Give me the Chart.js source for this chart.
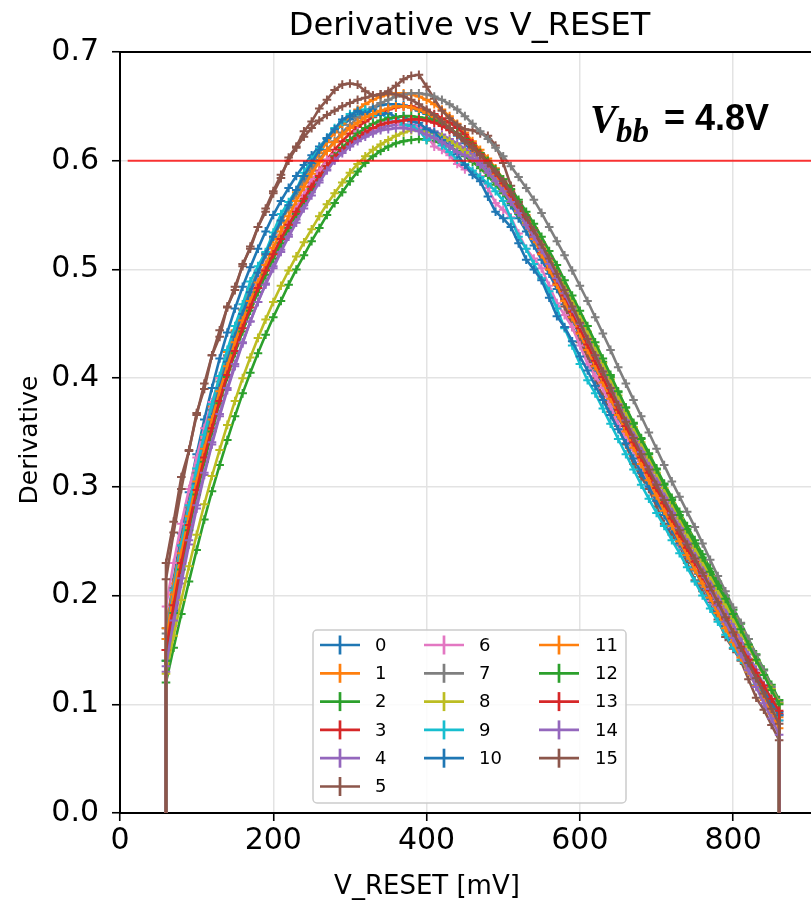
<!DOCTYPE html>
<html><head><meta charset="utf-8">
<script src="https://cdn.jsdelivr.net/npm/chart.js@4.4.0/dist/chart.umd.min.js"></script>
<style>
html,body{margin:0;padding:0;background:#fff;overflow:hidden;width:811px;height:903px}
#wrap{position:absolute;left:0;top:0;width:840px;height:903px}
</style>
</head><body><div id="wrap"><canvas id="c" width="840" height="903"></canvas></div>
<script>
const vReset = [60,60,70,80,90,100,110,120,130,140,150,160,170,180,190,200,210,220,230,240,250,260,270,280,290,300,310,320,330,340,350,360,370,380,390,400,410,420,430,440,450,460,470,480,490,500,510,520,530,540,550,560,570,580,590,600,610,620,630,640,650,660,670,680,690,700,710,720,730,740,750,760,770,780,790,800,810,820,830,840,850,860,860];

const s0 = [0,
.170,.215,.257,.295,.330,.362,.391,.418,.442,.464,
.484,.502,.519,.535,.550,.563,.575,.586,.596,.605,
.613,.620,.627,.633,.638,.642,.646,.649,.651,.652,
.652,.651,.649,.646,.643,.639,.634,.629,.623,.616,
.608,.600,.591,.581,.570,.559,.547,.535,.522,.509,
.496,.482,.468,.454,.439,.424,.409,.394,.379,.364,
.350,.335,.321,.307,.293,.279,.265,.252,.239,.226,
.213,.200,.187,.174,.162,.150,.138,.126,.115,.104,
.093,0];
const s1 = [0,
.170,.211,.249,.284,.316,.346,.374,.400,.424,.444,
.463,.481,.497,.513,.528,.543,.557,.571,.584,.596,
.607,.617,.626,.634,.641,.647,.652,.656,.659,.661,
.662,.662,.661,.659,.656,.652,.647,.641,.634,.626,
.618,.610,.602,.593,.583,.573,.562,.550,.538,.525,
.512,.498,.484,.469,.454,.439,.424,.409,.394,.379,
.364,.349,.334,.319,.304,.290,.276,.262,.249,.236,
.223,.210,.197,.183,.169,.156,.142,.128,.115,.101,
.088,0];
const s2 = [0,
.120,.152,.183,.213,.242,.270,.296,.320,.343,.365,
.386,.405,.423,.440,.456,.471,.486,.500,.513,.526,
.538,.550,.561,.571,.581,.590,.598,.604,.609,.613,
.616,.618,.619,.620,.619,.618,.616,.613,.609,.604,
.599,.593,.586,.578,.570,.561,.551,.541,.530,.518,
.506,.494,.481,.468,.455,.442,.429,.415,.401,.387,
.373,.359,.345,.331,.317,.303,.290,.277,.264,.251,
.238,.225,.213,.200,.187,.174,.160,.146,.132,.118,
.104,0];
const s3 = [0,
.150,.192,.232,.268,.300,.330,.358,.384,.408,.430,
.450,.468,.485,.500,.515,.529,.543,.556,.568,.580,
.591,.601,.610,.618,.625,.631,.636,.640,.644,.647,
.649,.650,.650,.648,.646,.643,.639,.635,.630,.624,
.616,.607,.598,.588,.577,.566,.554,.542,.529,.515,
.501,.487,.472,.457,.442,.427,.412,.397,.382,.367,
.352,.338,.324,.310,.296,.282,.268,.255,.242,.229,
.216,.203,.190,.177,.164,.151,.139,.127,.115,.103,
.091,0];
const s4 = [0,
.130,.172,.211,.247,.280,.311,.339,.365,.389,.411,
.432,.452,.470,.487,.503,.518,.532,.546,.559,.571,
.582,.592,.601,.609,.615,.620,.624,.627,.630,.632,
.633,.633,.633,.632,.630,.627,.624,.620,.616,.611,
.606,.601,.594,.586,.577,.567,.557,.546,.534,.522,
.509,.496,.482,.468,.454,.440,.425,.410,.395,.380,
.366,.352,.338,.324,.310,.296,.282,.268,.254,.241,
.228,.215,.202,.188,.174,.160,.146,.132,.118,.104,
.090,0];
const s5 = [0,
.230,.268,.309,.333,.368,.390,.421,.438,.466,.481,
.505,.519,.539,.553,.570,.584,.603,.613,.627,.636,
.648,.656,.665,.670,.671,.670,.664,.660,.661,.664,
.669,.675,.678,.679,.668,.657,.646,.639,.633,.629,
.628,.625,.623,.614,.598,.577,.562,.548,.531,.514,
.500,.486,.466,.447,.433,.420,.400,.383,.369,.356,
.339,.321,.309,.298,.282,.266,.256,.246,.230,.214,
.204,.194,.178,.162,.151,.140,.123,.106,.095,.081,
.067,0];
const s6 = [0,
.190,.230,.266,.298,.327,.354,.378,.400,.420,.439,
.457,.474,.490,.505,.519,.532,.545,.557,.569,.583,
.590,.601,.606,.611,.619,.627,.628,.629,.634,.638,
.635,.630,.632,.631,.624,.613,.610,.605,.597,.592,
.590,.586,.575,.561,.555,.548,.533,.519,.510,.501,
.485,.469,.458,.447,.430,.413,.402,.391,.374,.357,
.346,.334,.318,.302,.290,.278,.262,.247,.236,.225,
.210,.195,.184,.173,.158,.143,.133,.123,.109,.095,
.085,0];
const s7 = [0,
.165,.207,.246,.281,.313,.343,.371,.397,.421,.443,
.463,.482,.499,.515,.530,.544,.557,.569,.580,.591,
.601,.610,.618,.626,.633,.639,.644,.649,.653,.656,
.659,.661,.662,.662,.661,.659,.656,.652,.647,.641,
.634,.627,.620,.612,.604,.595,.585,.575,.564,.552,
.539,.526,.513,.499,.485,.471,.456,.441,.426,.410,
.395,.380,.365,.350,.335,.320,.305,.291,.277,.263,
.248,.233,.218,.204,.189,.175,.160,.145,.131,.116,
.102,0];
const s8 = [0,
.128,.163,.196,.227,.256,.284,.310,.334,.357,.379,
.400,.419,.437,.454,.470,.485,.499,.512,.525,.537,
.549,.560,.570,.580,.589,.597,.604,.610,.615,.619,
.623,.626,.628,.628,.627,.625,.622,.618,.613,.608,
.602,.596,.589,.581,.572,.563,.553,.543,.532,.521,
.509,.497,.484,.471,.457,.443,.429,.414,.399,.384,
.369,.355,.341,.327,.313,.299,.285,.271,.257,.244,
.231,.218,.205,.192,.179,.166,.153,.140,.127,.114,
.101,0];
const s9 = [0,
.160,.205,.246,.283,.317,.348,.376,.402,.426,.448,
.468,.489,.503,.516,.534,.551,.562,.573,.589,.601,
.611,.621,.630,.636,.643,.645,.647,.641,.644,.638,
.640,.633,.632,.628,.619,.623,.614,.608,.601,.597,
.591,.585,.579,.572,.563,.547,.530,.519,.505,.492,
.480,.464,.446,.430,.413,.398,.386,.372,.358,.344,
.330,.316,.302,.289,.276,.264,.251,.239,.226,.213,
.200,.188,.176,.164,.152,.141,.130,.118,.107,.096,
.085,0];
const s10 = [0,
.140,.186,.229,.268,.303,.335,.364,.391,.415,.438,
.459,.479,.497,.514,.530,.545,.559,.573,.586,.598,
.610,.621,.629,.638,.641,.646,.643,.647,.642,.644,
.640,.641,.636,.635,.629,.626,.619,.614,.606,.596,
.587,.581,.567,.553,.547,.539,.524,.509,.500,.490,
.474,.457,.447,.434,.420,.407,.393,.380,.366,.353,
.340,.326,.313,.300,.287,.274,.261,.248,.236,.223,
.210,.197,.185,.172,.160,.148,.136,.124,.112,.101,
.090,0];
const s11 = [0,
.160,.201,.239,.273,.305,.335,.362,.388,.411,.433,
.453,.471,.488,.504,.520,.535,.549,.563,.576,.588,
.599,.609,.617,.624,.630,.635,.640,.643,.646,.648,
.650,.650,.649,.647,.644,.640,.636,.630,.624,.618,
.611,.605,.598,.588,.577,.566,.554,.541,.528,.514,
.500,.486,.471,.456,.441,.426,.411,.396,.381,.366,
.351,.336,.321,.306,.292,.278,.264,.250,.237,.224,
.211,.198,.184,.170,.157,.143,.130,.117,.104,.091,
.078,0];
const s12 = [0,
.140,.184,.224,.260,.293,.323,.351,.377,.401,.423,
.443,.462,.479,.495,.510,.524,.538,.551,.563,.574,
.585,.595,.604,.612,.619,.625,.630,.634,.637,.639,
.640,.641,.641,.640,.639,.637,.634,.630,.625,.620,
.614,.607,.600,.592,.583,.574,.564,.553,.542,.530,
.517,.504,.490,.476,.462,.448,.433,.418,.403,.388,
.373,.358,.344,.330,.316,.302,.288,.274,.261,.248,
.235,.222,.209,.197,.183,.169,.155,.141,.127,.113,
.100,0];
const s13 = [0,
.150,.191,.230,.265,.297,.327,.354,.379,.403,.425,
.446,.465,.483,.499,.514,.528,.541,.553,.565,.576,
.586,.595,.603,.610,.616,.621,.626,.630,.633,.635,
.636,.637,.638,.638,.637,.635,.632,.628,.624,.619,
.613,.606,.598,.589,.579,.568,.557,.545,.532,.519,
.505,.491,.476,.461,.446,.431,.416,.401,.386,.371,
.356,.341,.327,.313,.299,.285,.271,.257,.244,.231,
.218,.205,.192,.179,.166,.153,.141,.129,.117,.105,
.094,0];
const s14 = [0,
.135,.177,.216,.251,.283,.313,.341,.367,.391,.413,
.433,.452,.470,.486,.501,.516,.530,.543,.556,.568,
.580,.591,.600,.607,.613,.618,.622,.625,.628,.629,
.630,.630,.629,.627,.624,.621,.617,.613,.608,.605,
.602,.596,.589,.581,.572,.562,.552,.541,.530,.518,
.505,.492,.478,.464,.450,.436,.421,.406,.391,.376,
.361,.346,.332,.318,.304,.290,.276,.262,.248,.234,
.220,.206,.191,.176,.161,.146,.131,.116,.101,.087,
.072,0];
const s15 = [0,
.215,.258,.298,.334,.366,.395,.421,.444,.465,.484,
.503,.521,.539,.556,.572,.587,.600,.612,.622,.630,
.637,.642,.646,.650,.653,.656,.658,.660,.661,.662,
.661,.659,.656,.652,.647,.642,.636,.630,.624,.618,
.612,.605,.598,.590,.581,.571,.560,.548,.536,.523,
.510,.496,.481,.466,.451,.436,.421,.406,.391,.375,
.360,.345,.330,.316,.302,.288,.274,.260,.247,.234,
.221,.208,.194,.180,.166,.152,.138,.124,.110,.096,
.082,0];

const seriesNames = ['0','1','2','3','4','5','6','7','8','9','10','11','12','13','14','15'];
const palette = ['#1f77b4','#ff7f0e','#2ca02c','#d62728','#9467bd','#8c564b','#e377c2','#7f7f7f','#bcbd22','#17becf'];
const xTicks = [0,200,400,600,800];
const yTicks = [0,0.1,0.2,0.3,0.4,0.5,0.6,0.7];
const thresholdX = [10,1000];
const thresholdY = [0.6,0.6];
const titleText = 'Derivative vs V_RESET';
const xLabel = 'V_RESET [mV]';
const yLabel = 'Derivative';

const allSeries = [s0,s1,s2,s3,s4,s5,s6,s7,s8,s9,s10,s11,s12,s13,s14,s15];
const datasets = allSeries.map((vals,i)=>{
  const col = palette[i%10];
  return {
    label: seriesNames[i],
    data: vals.map((v,j)=>({x:vReset[j], y:v})),
    borderColor: col, backgroundColor: col,
    pointBorderColor: col, pointBackgroundColor: col,
    borderWidth: 2.6,
    pointStyle: 'cross',
    pointRadius: (c)=> (c.raw && c.raw.y === 0) ? 0 : 4.3,
    pointBorderWidth: 2,
    pointHoverRadius: 0,
    tension: 0, fill: false,
    order: 100 - i
  };
});
datasets.push({
  label: 'threshold',
  data: thresholdX.map((x,j)=>({x:x, y:thresholdY[j]})),
  borderColor: 'rgba(255,0,0,0.78)', borderWidth: 2,
  pointRadius: 0, fill: false, order: 0
});

const decor = {
  id: 'decor',
  afterDraw(chart){
    const ctx = chart.ctx, a = chart.chartArea;
    ctx.save();
    ctx.strokeStyle = '#000'; ctx.lineWidth = 2;
    ctx.beginPath(); ctx.moveTo(a.left-1, a.top); ctx.lineTo(a.right+2, a.top); ctx.stroke();
    ctx.fillStyle = '#000'; ctx.textAlign = 'center'; ctx.textBaseline = 'alphabetic';
    ctx.font = '32px "DejaVu Sans"';
    ctx.fillText(titleText, (a.left + a.right)/2, 35);
    ctx.font = '26px "DejaVu Sans"';
    ctx.fillText(xLabel, 427, 894);
    ctx.save();
    ctx.translate(37, 440); ctx.rotate(-Math.PI/2);
    ctx.font = '25px "DejaVu Sans"'; ctx.textAlign='center'; ctx.textBaseline='alphabetic';
    ctx.fillText(yLabel, 0, 0);
    ctx.restore();
    // annotation
    ctx.textAlign = 'left'; ctx.textBaseline = 'alphabetic';
    ctx.font = 'italic bold 40px "Liberation Serif"';
    ctx.fillText('V', 590, 132);
    ctx.font = 'italic bold 33px "Liberation Serif"';
    ctx.fillText('bb', 616, 142);
    ctx.font = 'bold 36px "Liberation Sans"';
    ctx.fillText('= 4.8V', 664, 130);
    // legend
    const lx = 313, ly = 630, lw = 313, lh = 173;
    ctx.fillStyle = 'rgba(255,255,255,0.85)';
    ctx.strokeStyle = '#cccccc'; ctx.lineWidth = 1.5;
    ctx.beginPath(); ctx.roundRect(lx, ly, lw, lh, 4); ctx.fill(); ctx.stroke();
    const colLine = [320, 424, 539], colText = [375, 479, 595];
    ctx.font = '18px "DejaVu Sans"'; ctx.textBaseline = 'middle';
    for (let i = 0; i < 16; i++) {
      const ds = chart.data.datasets[i];
      const col = i < 6 ? 0 : (i < 11 ? 1 : 2);
      const row = i < 6 ? i : (i < 11 ? i-6 : i-11);
      const y = 645 + row*28.3;
      const x0 = colLine[col];
      ctx.strokeStyle = ds.borderColor; ctx.lineWidth = 2.7;
      ctx.beginPath(); ctx.moveTo(x0, y); ctx.lineTo(x0+40, y); ctx.stroke();
      ctx.beginPath(); ctx.moveTo(x0+20, y-9.5); ctx.lineTo(x0+20, y+9.5); ctx.stroke();
      ctx.fillStyle = '#000';
      ctx.fillText(ds.label, colText[col], y+1);
    }
    ctx.restore();
  }
};

new Chart(document.getElementById('c'), {
  type: 'line',
  data: { datasets },
  plugins: [decor],
  options: {
    responsive: false, animation: false, devicePixelRatio: 1,
    layout: { padding: { left: 0, right: 21, top: 52, bottom: 0 } },
    plugins: { legend: { display: false }, tooltip: { enabled: false }, title: { display: false } },
    scales: {
      x: {
        type: 'linear', min: 0, max: 912,
        afterBuildTicks: s => { s.ticks = xTicks.map(v => ({ value: v })); },
        afterFit: s => { s.height = 90; },
        grid: { color: '#e3e3e3', lineWidth: 1.5, tickLength: 8, tickColor: '#000', tickWidth: 1.6 },
        border: { color: '#000', width: 2 },
        ticks: { color: '#000', font: { family: 'DejaVu Sans', size: 30 }, padding: 2, maxRotation: 0, autoSkip: false, callback: v => String(v) }
      },
      y: {
        type: 'linear', min: 0, max: 0.7,
        afterBuildTicks: s => { s.ticks = yTicks.map(v => ({ value: v })); },
        afterFit: s => { s.width = 120; },
        grid: { color: '#e3e3e3', lineWidth: 1.5, tickLength: 8, tickColor: '#000', tickWidth: 1.6 },
        border: { color: '#000', width: 2 },
        ticks: { color: '#000', font: { family: 'DejaVu Sans', size: 30 }, padding: 13, autoSkip: false, callback: v => Number(v).toFixed(1) }
      }
    }
  }
});
</script>
</body></html>
